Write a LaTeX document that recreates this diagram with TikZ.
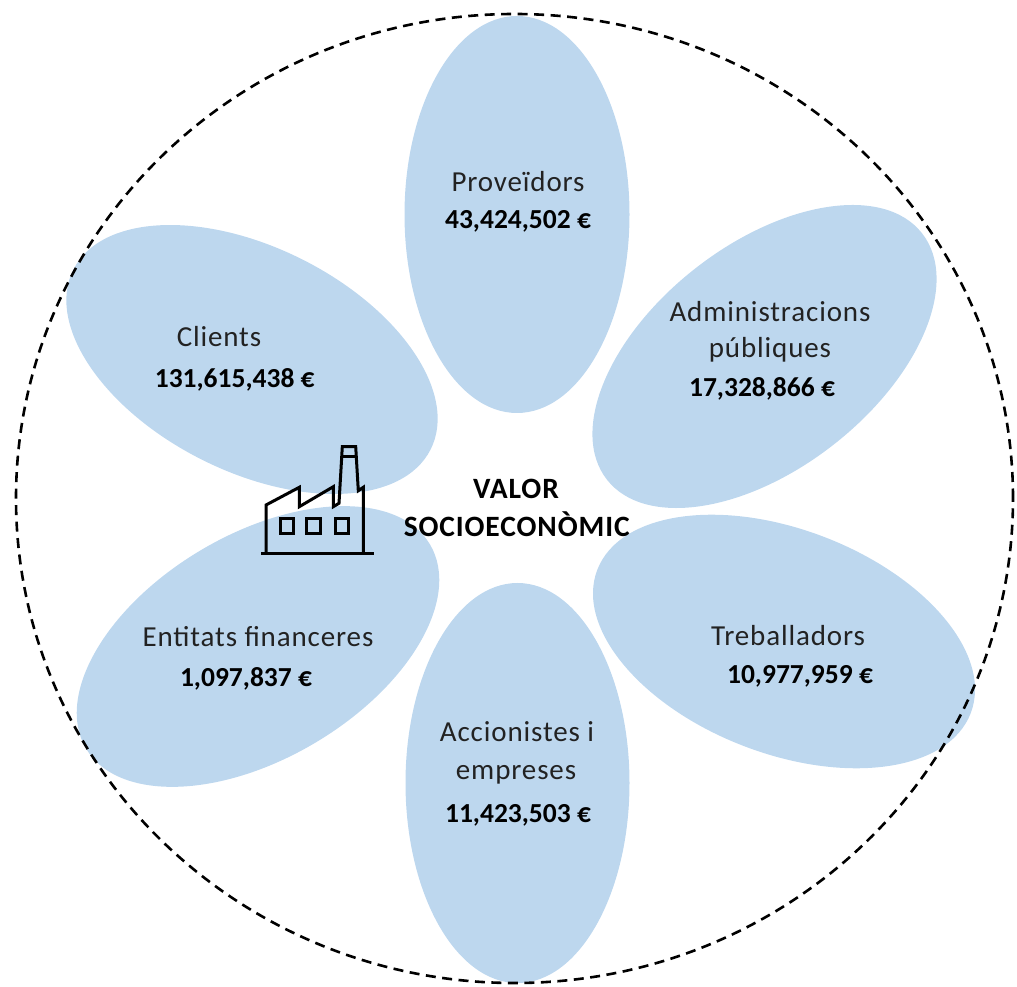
\documentclass[tikz,border=0pt]{standalone}
\usepackage{fontspec}
\setmainfont{Carlito}
\newfontfamily\spacedfont[LetterSpace=3]{Carlito}
\definecolor{petalblue}{HTML}{BDD7EE}
\definecolor{labelgray}{HTML}{222222}
\tikzset{
  petal/.style={fill=petalblue},
  lbl/.style={anchor=base, inner sep=0pt, text=labelgray, font=\spacedfont\fontsize{29}{34}\selectfont},
  num/.style={anchor=base, inner sep=0pt, text=black, font=\fontsize{27.5}{33}\selectfont\bfseries},
  ttl/.style={anchor=base, inner sep=0pt, text=black, font=\spacedfont\fontsize{29.5}{35}\selectfont\bfseries},
  icon/.style={draw=black, line width=3pt, line join=miter},
  outer/.style={draw=black, line width=2.6pt, dash pattern=on 10pt off 6.5pt}
}
\begin{document}
\begin{tikzpicture}[x=1pt,y=1pt]
\useasboundingbox (0,0) rectangle (1017,986);
% petals
\fill[petal] (517,771.5) ellipse [x radius=112.5, y radius=198.5];
\fill[petal] (517.5,203) ellipse [x radius=112, y radius=200];
\fill[petal, shift={(252,626.5)}, rotate=-26.7] (0,0) ellipse [x radius=200, y radius=112];
\fill[petal, shift={(764.5,629.5)}, rotate=38] (0,0) ellipse [x radius=200, y radius=112];
\fill[petal, shift={(258,339.5)}, rotate=30.7] (0,0) ellipse [x radius=200, y radius=112];
\fill[petal, shift={(784,344.5)}, rotate=-21] (0,0) ellipse [x radius=200, y radius=112];
% outer dashed circle
\draw[outer] (514.5,487.5) ellipse [x radius=498.5, y radius=484.5];
% factory icon
\draw[icon] (261,432) -- (374,432);
\draw[icon] (266,432) -- (266,481) -- (299.3,498.7) -- (299.3,479.3) -- (333.3,499.3) -- (333.3,479.3)
  -- (339,482.7) -- (342.3,539.3) -- (355.7,539.3) -- (358.3,495.3) -- (363.3,498.7) -- (363.3,432);
\draw[icon] (341.7,529.3) -- (356.3,529.3);
\draw[icon] (280,452.7) rectangle (293.3,467.7);
\draw[icon] (306.7,452.7) rectangle (320,467.7);
\draw[icon] (335,452.7) rectangle (348.3,467.7);
% labels
\node[lbl] (prov) at (518,794.3) {Proveïdors};
\node[num] (provn) at (518,757.5) {43,424,502 €};
\node[lbl] (cli) at (219,639.3) {Clients};
\node[num] (clin) at (234.7,598) {131,615,438 €};
\node[lbl] (adm1) at (770,664) {Administracions};
\node[lbl] (adm2) at (770,628) {públiques};
\node[num] (admn) at (762,589) {17,328,866 €};
\node[lbl] (ent) at (258,339) {Entitats financeres};
\node[num] (entn) at (246,299) {1,097,837 €};
\node[lbl] (tre) at (788,341) {Treballadors};
\node[num] (tren) at (800,303) {10,977,959 €};
\node[lbl] (acc1) at (517,245) {Accionistes i};
\node[lbl] (acc2) at (516,207) {empreses};
\node[num] (accn) at (518,164) {11,423,503 €};
\node[ttl] (val1) at (516,487) {VALOR};
\node[ttl] (val2) at (516.7,449.5) {SOCIOECONÒMIC};
\end{tikzpicture}
\end{document}
